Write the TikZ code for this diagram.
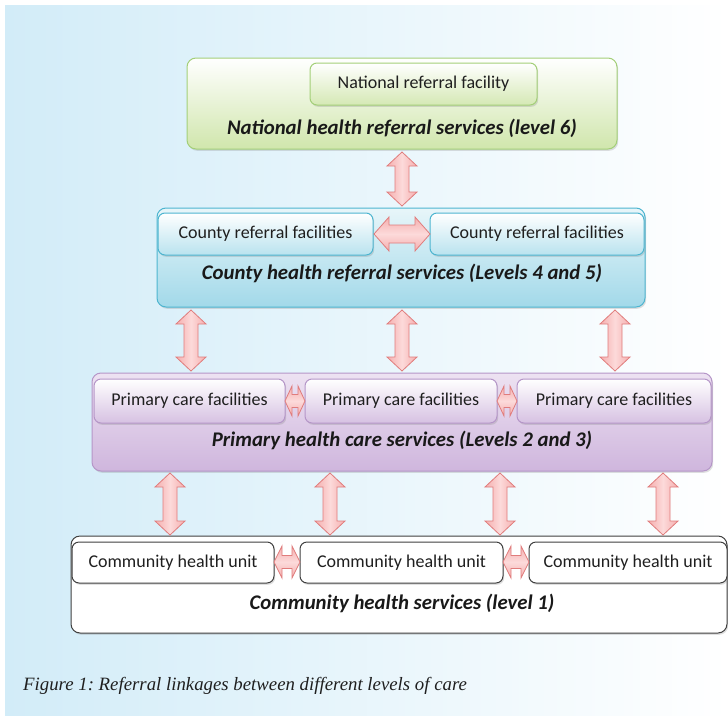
\documentclass[tikz,border=0pt]{standalone}
\usepackage{fontspec}
\setmainfont{Carlito}
\newfontfamily\capfont{Liberation Serif}
\usetikzlibrary{shadows}
\frenchspacing
\definecolor{bgblue}{HTML}{D2ECF8}
\definecolor{grnB}{HTML}{A3CF78}
\definecolor{grnF}{HTML}{D0E6AC}
\definecolor{bluB}{HTML}{4DB5D0}
\definecolor{bluF}{HTML}{A2D9E9}
\definecolor{purB}{HTML}{B596C8}
\definecolor{purF}{HTML}{CFB6DD}
\definecolor{purT}{HTML}{EDE2F2}
\definecolor{arrB}{HTML}{E07C7C}
\definecolor{arrF}{HTML}{F5AEAE}
\definecolor{arrL}{HTML}{FCDADA}
\tikzset{
  boxbase/.style={anchor=north west, inner sep=0pt, outer sep=0pt, line width=1pt, text=black!88,
    drop shadow={shadow xshift=1.2pt, shadow yshift=-1.8pt, opacity=0.25}},
  outbox/.style={boxbase, rounded corners=9pt},
  inbox/.style={boxbase, rounded corners=7pt, font=\fontsize{18}{21}\selectfont},
  grnout/.style={outbox, draw=grnB, top color=white, bottom color=grnF},
  grnin/.style={inbox, draw=grnB, top color=white, bottom color=grnF!90!white},
  bluout/.style={outbox, draw=bluB, top color=bluF!25!white, bottom color=bluF},
  bluin/.style={inbox, draw=bluB, top color=white, bottom color=bluF!75!white},
  purout/.style={outbox, draw=purB, top color=purT, bottom color=purF},
  purin/.style={inbox, draw=purB, top color=white, bottom color=purF!85!white},
  comout/.style={outbox, draw=black!75, fill=white, drop shadow={opacity=0}},
  comin/.style={inbox, draw=black!75, fill=white, drop shadow={opacity=0}},
  lvl/.style={text=black!90, font=\fontsize{20.8}{24}\selectfont\bfseries\itshape},
  fat/.style={draw=arrB, line width=0.8pt, left color=arrF, right color=arrF, middle color=arrL, line join=miter},
  hfatsty/.style={draw=arrB, line width=0.8pt, top color=arrF, bottom color=arrF, middle color=arrL, line join=miter}
}
% vertical double block arrow: x, ytop, ybottom
\newcommand\vfat[3]{\path[fat] (#1-7,#2+14) -- (#1-15,#2+14) -- (#1,#2) -- (#1+15,#2+14) -- (#1+7,#2+14)
  -- (#1+7,#3-14) -- (#1+15,#3-14) -- (#1,#3) -- (#1-15,#3-14) -- (#1-7,#3-14) -- cycle;}
% horizontal double block arrow: y, xleft, xright, head half-height, shaft half-height, head length
\newcommand\hfat[6]{\path[hfatsty] (#2+#6,#1-#5) -- (#2+#6,#1-#4) -- (#2,#1) -- (#2+#6,#1+#4) -- (#2+#6,#1+#5)
  -- (#3-#6,#1+#5) -- (#3-#6,#1+#4) -- (#3,#1) -- (#3-#6,#1-#4) -- (#3-#6,#1-#5) -- cycle;}
\begin{document}
\begin{tikzpicture}[x=1pt,y=-1pt]
\useasboundingbox (0,0) rectangle (728,715);
\fill[white] (0,0) rectangle (728,715);
\shade[left color=bgblue, right color=white] (5,5) rectangle (728,715);

% level 6
\node[grnout, minimum width=430pt, minimum height=91pt] (natO) at (187,58) {};
\node[grnin, minimum width=227pt, minimum height=42pt] (natI) at (310,63) {National referral facility};
\node[lvl] (natL) at (402,128) {National health referral services (level 6)};

% levels 4 and 5
\node[bluout, minimum width=488pt, minimum height=99pt] (ctyO) at (157,208) {};
\node[bluin, minimum width=215pt, minimum height=42pt] (ctyA) at (158,213) {County referral facilities};
\node[bluin, minimum width=214pt, minimum height=42pt] (ctyB) at (430,213) {County referral facilities};
\node[lvl] (ctyL) at (402,273) {County health referral services (Levels 4 and 5)};

% levels 2 and 3
\node[purout, minimum width=620pt, minimum height=98pt] (priO) at (92,373) {};
\node[purin, minimum width=191pt, minimum height=44pt] (priA) at (94,379) {Primary care facilities};
\node[purin, minimum width=192pt, minimum height=44pt] (priB) at (305,379) {Primary care facilities};
\node[purin, minimum width=194pt, minimum height=44pt] (priC) at (517,379) {Primary care facilities};
\node[lvl] (priL) at (402,440) {Primary health care services (Levels 2 and 3)};

% level 1
\node[comout, minimum width=656pt, minimum height=97pt] (comO) at (71,536) {};
\node[comin, minimum width=202pt, minimum height=41pt] (comA) at (72,542) {Community health unit};
\node[comin, minimum width=203pt, minimum height=41pt] (comB) at (300,542) {Community health unit};
\node[comin, minimum width=198pt, minimum height=41pt] (comC) at (529,542) {Community health unit};
\node[lvl] (comL) at (402,603) {Community health services (level 1)};

% vertical block arrows
\vfat{402}{152}{206}
\vfat{191}{310}{371}
\vfat{402}{310}{371}
\vfat{615}{310}{371}
\vfat{170}{473}{535}
\vfat{330}{473}{535}
\vfat{500}{473}{535}
\vfat{663}{473}{535}

% horizontal block arrows
\hfat{234}{374}{430}{17}{9}{15}
\hfat{401}{285}{305}{15}{6.5}{7}
\hfat{401}{497}{517}{15}{6.5}{7}
\hfat{562}{274}{300}{16}{6.5}{8}
\hfat{562}{503}{529}{16}{6.5}{8}

% caption
\node[anchor=base west, inner sep=0pt, font=\capfont\itshape\fontsize{18.8}{22}\selectfont, text=black!88] (cap) at (23,690) {Figure 1: Referral linkages between different levels of care};
\end{tikzpicture}
\end{document}
